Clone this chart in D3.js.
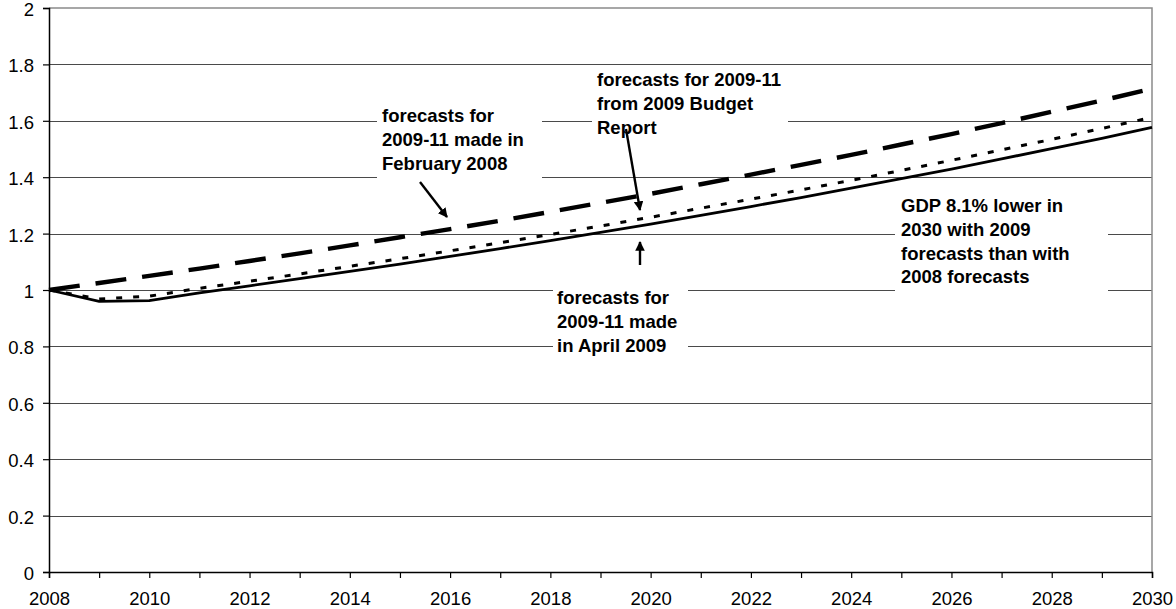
<!DOCTYPE html>
<html>
<head>
<meta charset="utf-8">
<script src="https://cdn.jsdelivr.net/npm/d3@7"></script>
<style>
  html, body { margin: 0; padding: 0; background: #fff; }
  svg { display: block; font-family: "Liberation Sans", Arial, sans-serif; }
</style>
</head>
<body>
<svg id="chart" width="1176" height="609"></svg>
<script>
// Years on the horizontal axis
const years = d3.range(2008, 2031);

// GDP index (2008 = 1) under three sets of 2009-11 forecasts
const feb2008 = [1.000, 1.025, 1.050, 1.076, 1.103, 1.130, 1.158, 1.187, 1.216, 1.246, 1.277,
                 1.309, 1.341, 1.375, 1.409, 1.444, 1.479, 1.516, 1.553, 1.592, 1.632, 1.672, 1.714];
const budget2009 = [1.000, 0.968, 0.978, 1.006, 1.031, 1.057, 1.084, 1.111, 1.139, 1.168, 1.197,
                    1.227, 1.258, 1.290, 1.322, 1.355, 1.389, 1.424, 1.460, 1.497, 1.534, 1.573, 1.612];
const april2009 = [1.000, 0.960, 0.962, 0.990, 1.015, 1.040, 1.066, 1.092, 1.119, 1.147, 1.175,
                   1.204, 1.234, 1.265, 1.296, 1.328, 1.361, 1.395, 1.429, 1.465, 1.501, 1.538, 1.577];

// Axis tick values and labels
const yTicks = [0, 0.2, 0.4, 0.6, 0.8, 1, 1.2, 1.4, 1.6, 1.8, 2];
const yTickLabels = ["0", "0.2", "0.4", "0.6", "0.8", "1", "1.2", "1.4", "1.6", "1.8", "2"];
const xTickLabels = ["2008", "2010", "2012", "2014", "2016", "2018", "2020", "2022", "2024", "2026", "2028", "2030"];

// Annotation texts
const noteFeb = ["forecasts for", "2009-11 made in", "February 2008"];
const noteBudget = ["forecasts for 2009-11", "from 2009 Budget", "Report"];
const noteApril = ["forecasts for", "2009-11 made", "in April 2009"];
const noteGap = ["GDP 8.1% lower in", "2030 with 2009", "forecasts than with", "2008 forecasts"];

const svg = d3.select("#chart");
const plotLeft = 49, plotRight = 1152, plotTop = 8, plotBottom = 572;

const x = d3.scaleLinear().domain([2008, 2030]).range([plotLeft, plotRight]);
const y = d3.scaleLinear().domain([0, 2]).range([plotBottom, plotTop]);

// Horizontal gridlines
svg.append("g")
  .selectAll("line")
  .data(yTicks.filter(v => v > 0 && v < 2))
  .join("line")
  .attr("x1", plotLeft).attr("x2", plotRight)
  .attr("y1", d => Math.round(y(d)) + 0.5).attr("y2", d => Math.round(y(d)) + 0.5)
  .attr("stroke", "#4a4a4a").attr("stroke-width", 1.1);

// Plot-area border (top and right)
svg.append("path")
  .attr("d", `M${plotLeft},${y(2)}H${plotRight}V${plotBottom}`)
  .attr("fill", "none").attr("stroke", "#8a8a8a").attr("stroke-width", 1.5);

// Y axis
const yAxis = svg.append("g")
  .attr("transform", `translate(${plotLeft},0)`)
  .call(d3.axisLeft(y).tickValues(yTicks).tickSize(6).tickPadding(9)
    .tickFormat((d, i) => yTickLabels[i]));

// X axis: a tick every year, a label every second year
const xAxis = svg.append("g")
  .attr("transform", `translate(0,${plotBottom})`)
  .call(d3.axisBottom(x).tickValues(years).tickSize(6).tickPadding(9)
    .tickFormat(d => xTickLabels.includes(String(d)) ? String(d) : ""));

[yAxis, xAxis].forEach(g => {
  g.select(".domain").attr("stroke", "#000").attr("stroke-width", 1.5);
  g.selectAll(".tick line").attr("stroke", "#000").attr("stroke-width", 1.2);
  g.selectAll(".tick text")
    .attr("fill", "#000")
    .style("font-size", "18.5px")
    .style("font-family", "'Liberation Sans', Arial, sans-serif");
});
xAxis.selectAll(".tick text").attr("dy", "0.95em");
yAxis.selectAll(".tick text").attr("dy", "0.4em");

// Series lines
const lineGen = vals => d3.line()
  .x((d, i) => x(years[i]))
  .y(d => y(d))(vals);

svg.append("path").attr("d", lineGen(april2009))
  .attr("fill", "none").attr("stroke", "#000").attr("stroke-width", 2.8);
svg.append("path").attr("d", lineGen(budget2009))
  .attr("fill", "none").attr("stroke", "#000").attr("stroke-width", 3)
  .attr("stroke-dasharray", "6,11");
svg.append("path").attr("d", lineGen(feb2008))
  .attr("fill", "none").attr("stroke", "#000").attr("stroke-width", 4.4)
  .attr("stroke-dasharray", "31,16");

// Annotation boxes (white background hides the gridlines behind the text)
function note(lines, bx, by, bw, bh, tx, ty) {
  const g = svg.append("g");
  g.append("rect").attr("x", bx).attr("y", by).attr("width", bw).attr("height", bh)
    .attr("fill", "#fff");
  g.append("text")
    .attr("x", tx).attr("y", ty)
    .attr("font-size", "18.5px").attr("font-weight", "bold").attr("fill", "#000")
    .selectAll("tspan").data(lines).join("tspan")
    .attr("x", tx).attr("y", (d, i) => ty + i * 23.8)
    .text(d => d);
}
note(noteFeb, 377, 100, 165, 82, 382, 122);
note(noteBudget, 592, 67, 196, 72, 597, 86);
note(noteApril, 553, 284, 135, 76, 557, 304);
note(noteGap, 895, 196, 213, 100, 901, 212);

// Arrows
svg.append("defs").append("marker")
  .attr("id", "head").attr("viewBox", "0 0 10 10")
  .attr("refX", 9).attr("refY", 5)
  .attr("markerWidth", 4).attr("markerHeight", 4)
  .attr("markerUnits", "strokeWidth")
  .attr("orient", "auto")
  .append("path").attr("d", "M0,0L10,5L0,10Z").attr("fill", "#000");

const arrows = [
  [420, 182, 447, 217],
  [626, 129, 640, 210],
  [640, 265, 640, 242]
];
svg.append("g").selectAll("line").data(arrows).join("line")
  .attr("x1", d => d[0]).attr("y1", d => d[1])
  .attr("x2", d => d[2]).attr("y2", d => d[3])
  .attr("stroke", "#000").attr("stroke-width", 2.4)
  .attr("marker-end", "url(#head)");
</script>
</body>
</html>
